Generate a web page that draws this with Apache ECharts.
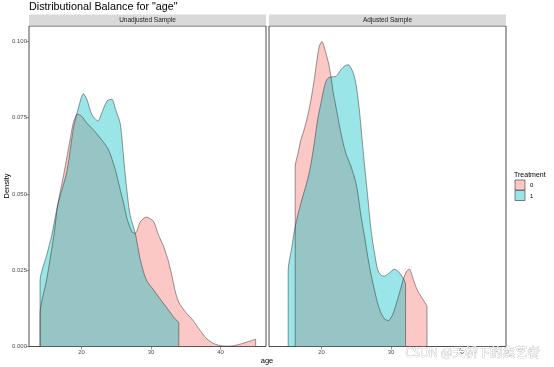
<!DOCTYPE html>
<html>
<head>
<meta charset="utf-8">
<script src="https://cdn.jsdelivr.net/npm/echarts@6/dist/echarts.min.js"></script>
<style>html,body{margin:0;padding:0;background:#fff}#c{width:554px;height:367px}</style>
</head>
<body>
<div id="c"></div>
<script>
// ---- data ----
var panels = ['Unadjusted Sample', 'Adjusted Sample'];
var treatments = ['0', '1'];
var xTicks = [20, 30, 40];
var yTicks = [0, 0.025, 0.05, 0.075, 0.1];

// Unadjusted, treatment 0 : [age, density]
var unadjTreat0 = [
  [14.04,0.0107],[15.0,0.022],[16.0,0.036],[16.59,0.0464],[17.5,0.057],[18.3,0.067],
  [18.85,0.0735],[19.42,0.0761],[20.0,0.0755],[20.77,0.0732],[21.7,0.071],[22.7,0.0683],
  [23.9,0.0644],[24.86,0.058],[25.58,0.0513],[26.06,0.047],[26.54,0.042],[27.27,0.0375],
  [27.75,0.0371],[28.47,0.0409],[29.33,0.0424],[30.39,0.0409],[31.0,0.037],[31.83,0.0327],
  [32.5,0.028],[33.04,0.0229],[33.5,0.018],[34.0,0.0145],[35.0,0.0112],[36.0,0.0087],
  [37.0,0.0055],[38.0,0.0026],[39.0,0.0010],[40.0,0.0003],[41.0,0.0001],[42.0,0.0003],
  [43.0,0.0009],[44.0,0.0016],[45.06,0.0024]
];
// Unadjusted, treatment 1
var unadjTreat1 = [
  [14.04,0.0216],[15.0,0.030],[15.72,0.0364],[16.59,0.0464],[17.89,0.0573],[18.85,0.0716],
  [19.42,0.077],[20.29,0.0828],[20.77,0.081],[21.5,0.076],[22.36,0.0739],[23.0,0.077],
  [23.7,0.0805],[24.38,0.081],[24.86,0.078],[25.58,0.073],[26.06,0.062],[26.54,0.051],
  [27.0,0.043],[27.75,0.037],[28.47,0.0284],[29.33,0.0218],[30.39,0.0185],[31.5,0.015],
  [32.5,0.012],[33.3,0.0095],[34.0,0.0076]
];
// Adjusted, treatment 0
var adjTreat0 = [
  [16.22,0.059],[16.6,0.063],[17.04,0.0677],[17.5,0.071],[18.0,0.0754],[18.5,0.081],
  [18.96,0.0874],[19.3,0.093],[19.68,0.0983],[20.06,0.0999],[20.35,0.0985],[20.64,0.0961],
  [21.0,0.093],[21.36,0.0885],[21.7,0.083],[22.08,0.0786],[22.8,0.0699],[23.5,0.0633],
  [24.25,0.059],[24.97,0.0535],[25.3,0.049],[25.7,0.0426],[26.2,0.036],[26.66,0.0294],
  [27.1,0.024],[27.62,0.0185],[28.1,0.014],[28.58,0.0109],[29.1,0.009],[29.64,0.0085],
  [30.1,0.0098],[30.5,0.012],[31.2,0.0174],[31.93,0.0231],[32.3,0.0248],[32.67,0.0253],
  [33.0,0.0235],[33.4,0.0207],[33.9,0.018],[34.36,0.0163],[34.8,0.0147],[35.18,0.0131]
];
// Adjusted, treatment 1
var adjTreat1 = [
  [15.21,0.0251],[15.7,0.032],[16.22,0.0393],[17.04,0.047],[18.0,0.0546],[18.5,0.060],
  [18.96,0.0666],[19.5,0.075],[19.92,0.0797],[20.3,0.084],[20.64,0.0868],[21.0,0.0880],
  [21.36,0.0883],[22.08,0.0885],[22.8,0.0907],[23.4,0.0920],[23.87,0.0923],[24.3,0.091],
  [24.73,0.0885],[25.1,0.084],[25.45,0.0775],[25.8,0.069],[26.17,0.060],[26.66,0.049],
  [27.13,0.0382],[27.6,0.031],[28.1,0.0251],[28.6,0.0233],[29.06,0.0231],[29.8,0.0242],
  [30.5,0.0253],[31.1,0.0245],[31.7,0.0226],[32.1,0.0205]
];

// ---- chart ----
var FONT = 'Liberation Sans, Arial, sans-serif';
var fills = ['rgba(248,118,109,0.4)', 'rgba(0,191,196,0.4)'];
var curves = [[unadjTreat0, unadjTreat1], [adjTreat0, adjTreat1]];

function closed(c) {
  var d = [[c[0][0], 0]].concat(c);
  d.push([c[c.length - 1][0], 0]);
  return d;
}

var gridW = 237, gridTop = 26, gridH = 320.5;
var lefts = [29, 269];

var grids = [], xAxes = [], yAxes = [], series = [], graphics = [];
for (var p = 0; p < 2; p++) {
  grids.push({left: lefts[p], top: gridTop, width: gridW, height: gridH, show: true,
    borderColor: '#4d4d4d', borderWidth: 1, backgroundColor: '#fff', containLabel: false});
  xAxes.push({type: 'value', gridIndex: p, min: 12.45, max: 46.55,
    axisLine: {show: false}, splitLine: {show: false},
    axisTick: {show: true, length: 3, customValues: xTicks, lineStyle: {color: '#4d4d4d', width: 0.6}},
    axisLabel: {show: true, customValues: xTicks, margin: 3, fontSize: 6, color: '#4d4d4d', fontFamily: FONT}
  });
  yAxes.push({type: 'value', gridIndex: p, min: 0, max: 0.105,
    axisLine: {show: false}, splitLine: {show: false},
    axisTick: {show: p === 0, length: 3, customValues: yTicks, lineStyle: {color: '#4d4d4d', width: 0.6}},
    axisLabel: {show: p === 0, customValues: yTicks, margin: 2, fontSize: 6, color: '#4d4d4d', fontFamily: FONT,
      formatter: function (v) { return v.toFixed(3); }}
  });
  for (var t = 0; t < 2; t++) {
    series.push({type: 'line', name: treatments[t], xAxisIndex: p, yAxisIndex: p,
      data: closed(curves[p][t]), symbol: 'none', smooth: 0.25, silent: true,
      lineStyle: {color: 'rgba(30,30,30,0.75)', width: 0.6},
      areaStyle: {color: fills[t], opacity: 1, origin: 'start'}
    });
  }
  graphics.push({type: 'rect', shape: {x: lefts[p], y: 14.5, width: gridW, height: 11},
    style: {fill: '#d9d9d9', stroke: null}});
  graphics.push({type: 'text', x: lefts[p] + gridW / 2, y: 20,
    style: {text: panels[p], fontSize: 6.5, fill: '#1a1a1a', fontFamily: FONT, align: 'center', verticalAlign: 'middle'}});
}

graphics.push({type: 'text', x: 29, y: 7, style: {text: 'Distributional Balance for "age"', fontSize: 10.8,
  fill: '#000', fontFamily: FONT, align: 'left', verticalAlign: 'middle'}});
graphics.push({type: 'text', x: 267, y: 361, style: {text: 'age', fontSize: 7.5, fill: '#000',
  fontFamily: FONT, align: 'center', verticalAlign: 'middle'}});
graphics.push({type: 'text', x: 7, y: 186, rotation: Math.PI / 2, style: {text: 'Density', fontSize: 7.5,
  fill: '#000', fontFamily: FONT, align: 'center', verticalAlign: 'middle'}});
// legend
graphics.push({type: 'text', x: 514, y: 175, style: {text: 'Treatment', fontSize: 7, fill: '#000',
  fontFamily: FONT, align: 'left', verticalAlign: 'middle'}});
var keyFill = ['#fcc8c5', '#99e5e7'];
for (var k = 0; k < 2; k++) {
  graphics.push({type: 'rect', shape: {x: 515, y: 180 + k * 10.5, width: 10, height: 10},
    style: {fill: keyFill[k], stroke: '#333', lineWidth: 0.6}});
  graphics.push({type: 'text', x: 530, y: 185.5 + k * 10.5, style: {text: treatments[k], fontSize: 6,
    fill: '#000', fontFamily: FONT, align: 'left', verticalAlign: 'middle'}});
}
// watermark
graphics.push({type: 'text', x: 540, y: 352, z: 100, style: {text: 'CSDN @天桥下的卖艺者', fontSize: 12.5,
  fill: '#ffffff', stroke: '#a8a8a8', lineWidth: 0.6, fontFamily: 'Noto Sans CJK SC', align: 'right', verticalAlign: 'middle'}});

var chart = echarts.init(document.getElementById('c'), null, {renderer: 'canvas'});
chart.setOption({
  animation: false,
  backgroundColor: '#fff',
  grid: grids, xAxis: xAxes, yAxis: yAxes, series: series,
  graphic: {elements: graphics}
});
</script>
</body>
</html>
